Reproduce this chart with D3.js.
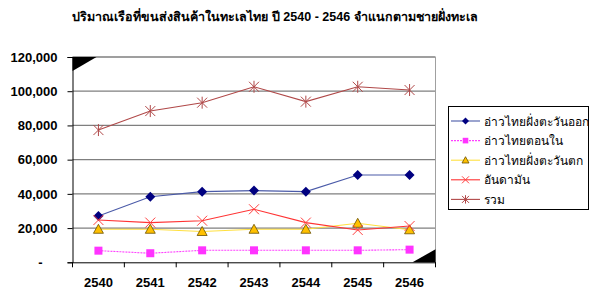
<!DOCTYPE html>
<html>
<head>
<meta charset="utf-8">
<script src="https://cdn.jsdelivr.net/npm/d3@7"></script>
<style>
body{margin:0;background:#fff;}
svg{font-family:"Liberation Sans",Arial,sans-serif;}
</style>
</head>
<body>
<div id="chart"></div>
<script>
// ข้อมูล
var years = ['2540','2541','2542','2543','2544','2545','2546'];
var seriesNames = ['อ่าวไทยฝั่งตะวันออก','อ่าวไทยตอนใน','อ่าวไทยฝั่งตะวันตก','อันดามัน','รวม'];
var eastGulf = [27000, 38300, 41300, 41900, 41300, 51000, 51000];
var innerGulf = [6800, 5300, 7000, 7000, 7000, 7000, 7400];
var westGulf = [19300, 19300, 18000, 19300, 19300, 22800, 19000];
var andaman = [24700, 23200, 24300, 31000, 23200, 18900, 21200];
var total = [77300, 88400, 93300, 102600, 93900, 102600, 100700];
var yTicks = [0, 20000, 40000, 60000, 80000, 100000, 120000];

var W = 591, H = 300;
var plot = {left:72.5, right:435.5, top:57, bottom:262.3};

var svg = d3.select('#chart').append('svg').attr('width',W).attr('height',H);

svg.append('text')
	.attr('x',275).attr('y',21)
	.attr('text-anchor','middle')
	.style('font-size','12.5px').style('font-weight','bold')
	.text('ปริมาณเรือที่ขนส่งสินค้าในทะเลไทย ปี 2540 - 2546 จำแนกตามชายฝั่งทะเล');

var x = d3.scaleBand().domain(years).range([plot.left, plot.right]);
var y = d3.scaleLinear().domain([0,120000]).range([plot.bottom, plot.top]);

// เส้นกริด
svg.append('g').selectAll('line').data(yTicks.slice(1)).enter().append('line')
	.attr('x1',plot.left).attr('x2',plot.right)
	.attr('y1',function(d){return y(d);}).attr('y2',function(d){return y(d);})
	.attr('stroke','#7f7f7f').attr('stroke-width',1.3);
svg.append('line')
	.attr('x1',plot.right).attr('x2',plot.right).attr('y1',plot.top).attr('y2',plot.bottom)
	.attr('stroke','#a0a0a0');

// แกน y
var yAxis = svg.append('g').attr('transform','translate('+plot.left+',0)')
	.call(d3.axisLeft(y).tickValues(yTicks).tickSize(5).tickPadding(10)
		.tickFormat(function(d){return d === 0 ? '-' : d3.format(',')(d);}));
yAxis.select('.domain').attr('stroke','#000');
yAxis.selectAll('text').style('font-size','13px').style('font-weight','bold').attr('fill','#000');
yAxis.selectAll('.tick text').filter(function(d){return d===0;}).attr('dx',-15);

// แกน x
var xAxis = svg.append('g').attr('transform','translate(0,'+plot.bottom+')')
	.call(d3.axisBottom(x).tickSize(0).tickPadding(15));
xAxis.select('.domain').attr('stroke','#000');
xAxis.selectAll('text').style('font-size','13px').style('font-weight','bold').attr('fill','#000');
svg.append('g').selectAll('line').data(years.concat(['end'])).enter().append('line')
	.attr('x1',function(d,i){return plot.left + i*x.step();})
	.attr('x2',function(d,i){return plot.left + i*x.step();})
	.attr('y1',plot.bottom).attr('y2',plot.bottom+5)
	.attr('stroke','#000');

// มุมสามเหลี่ยมดำ
svg.append('path').attr('d','M'+plot.left+','+plot.top+'L'+(plot.left+24)+','+plot.top+'L'+plot.left+','+(plot.top+14)+'Z').attr('fill','#000');
svg.append('path').attr('d','M'+(plot.right-23)+','+plot.bottom+'L'+plot.right+','+(plot.bottom-13)+'L'+plot.right+','+plot.bottom+'Z').attr('fill','#000');

var cx = function(i){return x(years[i]) + x.bandwidth()/2;};
var series = [
	{name:seriesNames[0], values:eastGulf, line:'#4a5aa8', dash:null, marker:'diamond', fill:'#000080', stroke:'#000080'},
	{name:seriesNames[1], values:innerGulf, line:'#ff40ff', dash:'2,1', marker:'square', fill:'#ff33ff', stroke:'#ff33ff'},
	{name:seriesNames[2], values:westGulf, line:'#ffe040', dash:null, marker:'triangle', fill:'#ffc000', stroke:'#6b5000'},
	{name:seriesNames[3], values:andaman, line:'#ff3333', dash:null, marker:'x', fill:'none', stroke:'#ff4040'},
	{name:seriesNames[4], values:total, line:'#b04848', dash:null, marker:'star', fill:'none', stroke:'#b04848'}
];

function drawMarker(g, type, s, px, py, k){
	k = k || 1;
	if(type==='diamond'){
		g.append('path').attr('d','M'+px+','+(py-5*k)+'L'+(px+5*k)+','+py+'L'+px+','+(py+5*k)+'L'+(px-5*k)+','+py+'Z').attr('fill',s.fill);
	}else if(type==='square'){
		g.append('rect').attr('x',px-4*k).attr('y',py-4*k).attr('width',8*k).attr('height',8*k).attr('fill',s.fill);
	}else if(type==='triangle'){
		g.append('path').attr('d','M'+px+','+(py-5*k)+'L'+(px+5*k)+','+(py+4*k)+'L'+(px-5*k)+','+(py+4*k)+'Z').attr('fill',s.fill).attr('stroke',s.stroke).attr('stroke-width',0.8);
	}else if(type==='x'){
		g.append('path').attr('d','M'+(px-5*k)+','+(py-5*k)+'L'+(px+5*k)+','+(py+5*k)+'M'+(px+5*k)+','+(py-5*k)+'L'+(px-5*k)+','+(py+5*k)).attr('stroke',s.stroke).attr('stroke-width',1);
	}else if(type==='star'){
		g.append('path').attr('d','M'+(px-5*k)+','+(py-5*k)+'L'+(px+5*k)+','+(py+5*k)+'M'+(px+5*k)+','+(py-5*k)+'L'+(px-5*k)+','+(py+5*k)+'M'+px+','+(py-6*k)+'L'+px+','+(py+6*k)).attr('stroke',s.stroke).attr('stroke-width',1);
	}
}

var line = d3.line().x(function(d,i){return cx(i);}).y(function(d){return y(d);});
series.forEach(function(s){
	var g = svg.append('g');
	g.append('path').datum(s.values).attr('d',line)
		.attr('fill','none').attr('stroke',s.line).attr('stroke-width',1.1)
		.attr('stroke-dasharray',s.dash);
	s.values.forEach(function(v,i){ drawMarker(g, s.marker, s, cx(i), y(v)); });
});

// คำอธิบาย
var lg = svg.append('g');
lg.append('rect').attr('x',448.5).attr('y',106.5).attr('width',140).attr('height',103)
	.attr('fill','#fff').attr('stroke','#000');
series.forEach(function(s,i){
	var ly = 121 + i*19.6;
	lg.append('line').attr('x1',451).attr('x2',480).attr('y1',ly).attr('y2',ly)
		.attr('stroke',s.line).attr('stroke-width',1.1).attr('stroke-dasharray',s.dash);
	drawMarker(lg, s.marker, s, 465.5, ly, 0.7);
	lg.append('text').attr('x',484).attr('y',ly+4.5)
		.style('font-size','12px').text(s.name);
});
</script>
</body>
</html>
